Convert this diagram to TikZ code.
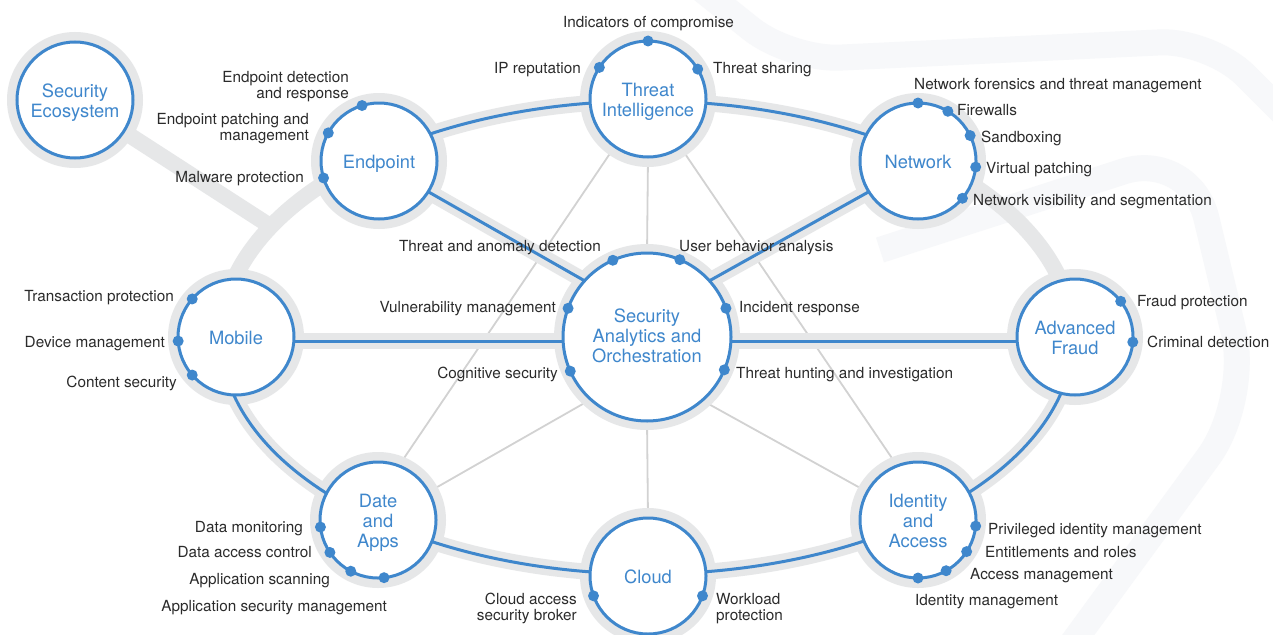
\documentclass[tikz,border=0pt]{standalone}
\usepackage{fontspec}
\setmainfont{TeX Gyre Heros}
\definecolor{hblue}{HTML}{3F87CC}
\definecolor{halo}{HTML}{E6E7E8}
\definecolor{thingray}{HTML}{D2D2D2}
\definecolor{txt}{HTML}{2B2B2B}
\definecolor{wmark}{HTML}{F7F8FA}
\newcommand\hubtop{\rule{0pt}{18.6pt}}
\newcommand\bigtop{\rule{0pt}{14.5pt}}
\newcommand\hubbot{\rule[-4pt]{0pt}{4pt}}
\pgfdeclarelayer{bg}
\pgfdeclarelayer{mid}
\pgfsetlayers{bg,mid,main}
\begin{document}
\begin{tikzpicture}[x=1pt,y=-1pt,
  hub/.style={circle, draw=hblue, line width=3pt, fill=white, minimum size=116pt,
    inner sep=0pt, outer sep=0pt, text=hblue, align=center,
    font=\fontsize{18.3}{20}\selectfont},
  bighub/.style={hub, minimum size=168pt},
  lbl/.style={text=txt, inner sep=0pt, yshift=-2pt, font=\fontsize{15.3}{15.5}\selectfont},
  lblone/.style={lbl, text height=11pt, text depth=3pt},
  dotmark/.style={fill=hblue},
  band/.style={draw=halo, line width=16pt},
  blueline/.style={draw=hblue, line width=3pt},
  thinline/.style={draw=thingray, line width=1.8pt}]
\useasboundingbox (0,0) rectangle (1273,634);

% ---------- hubs ----------
\node[hub] (se) at (75,100) {\hubtop Security\\Ecosystem\hubbot};
\node[hub] (ep) at (379,161) {\hubtop Endpoint\hubbot};
\node[hub] (ti) at (648,99) {\hubtop Threat\\Intelligence\hubbot};
\node[hub] (nw) at (918,161) {\hubtop Network\hubbot};
\node[bighub] (sao) at (647,337) {\bigtop Security\\Analytics and\\Orchestration\hubbot};
\node[hub] (mob) at (236,337) {\hubtop Mobile\hubbot};
\node[hub] (af) at (1075,337) {\hubtop Advanced\\Fraud\hubbot};
\node[hub] (da) at (378,520) {\hubtop Date\\and\\Apps\hubbot};
\node[hub] (cl) at (648,576) {\hubtop Cloud\hubbot};
\node[hub] (ia) at (918,520) {\hubtop Identity\\and\\Access\hubbot};
\coordinate (junc) at (270.9,226.5);

% ---------- background layer ----------
\begin{pgfonlayer}{bg}
\fill[white] (0,0) rectangle (1273,634);
% faint watermark
\draw[wmark, line width=26pt, line join=round, rounded corners=50pt]
  (690,-20) -- (790,60) -- (1210,40) -- (1290,120);
\draw[wmark, line width=26pt, line join=round, rounded corners=70pt]
  (880,250) -- (1190,150) -- (1250,400) -- (1060,660);
% thin gray links
\draw[thinline] (sao.90) -- (ti.270);
\draw[thinline] (sao.270) -- (cl.90);
\draw[thinline] (ti.235.5) -- (da.69);
\draw[thinline] (ti.304.5) -- (ia.111);
\draw[thinline] (sao.228.6) -- (da.29);
\draw[thinline] (sao.311.4) -- (ia.151);
% halos
\foreach \n in {se,ep,ti,nw,mob,af,da,cl,ia}
  \fill[halo] (\n.center) circle (68pt);
\fill[halo] (sao.center) circle (93pt);
% gray bands
\draw[band] plot[domain=0:360, samples=181, variable=\t, smooth]
  ({647+426*cos(\t)},{337.5-236.5*sin(\t)});
\draw[band] (se.center) -- (junc);
\draw[band] (ep.-32) -- (sao.138);
\draw[band] (nw.212) -- (sao.42);
\draw[band] (mob.-4) -- (af.184);
\end{pgfonlayer}

% ---------- blue links ----------
\begin{pgfonlayer}{mid}
\draw[blueline] plot[domain=49.5:130, samples=60, variable=\t, smooth]
  ({647+426*cos(\t)},{337.5-236.5*sin(\t)});
\draw[blueline] plot[domain=180:360, samples=120, variable=\t, smooth]
  ({647+426*cos(\t)},{337.5-236.5*sin(\t)});
\draw[blueline] (ep.-32) -- (sao.138);
\draw[blueline] (nw.212) -- (sao.42);
\draw[blueline] (mob.-4) -- (af.184);
\end{pgfonlayer}

% ---------- dots ----------
\foreach \n/\a in {ep/107, ep/151, ep/197,
                   ti/90, ti/147, ti/31.5,
                   nw/90, nw/59, nw/26, nw/-6, nw/-40,
                   sao/114, sao/67, sao/160, sao/20, sao/204, sao/-23.5,
                   mob/139, mob/184, mob/221,
                   da/187, da/214, da/242.5, da/276,
                   cl/200, cl/-20,
                   ia/-6, ia/-33, ia/-61, ia/-90,
                   af/38, af/-5}
  \fill[dotmark] (\n.\a) circle (5.5pt);

% ---------- labels ----------
% Endpoint
\node[lbl, align=right, anchor=east] (l-edr) at (349,84.5) {Endpoint detection\\and response};
\node[lbl, align=right, anchor=east] (l-epm) at (309,126.5) {Endpoint patching and\\management};
\node[lblone, anchor=east] (l-mp) at (304,176) {Malware protection};
% Threat Intelligence
\node[lblone, anchor=center] (l-ioc) at (648.5,22) {Indicators of compromise};
\node[lblone, anchor=east] (l-ip) at (581,68) {IP reputation};
\node[lblone, anchor=west] (l-ts) at (713,68) {Threat sharing};
% Network
\node[lblone, anchor=west] (l-nf) at (914,83) {Network forensics and threat management};
\node[lblone, anchor=west] (l-fw) at (957,109) {Firewalls};
\node[lblone, anchor=west] (l-sb) at (981,136) {Sandboxing};
\node[lblone, anchor=west] (l-vp) at (986,167) {Virtual patching};
\node[lblone, anchor=west] (l-nv) at (973,199) {Network visibility and segmentation};
% Security Analytics and Orchestration
\node[lblone, anchor=east] (l-tad) at (601,245) {Threat and anomaly detection};
\node[lblone, anchor=west] (l-uba) at (679,245) {User behavior analysis};
\node[lblone, anchor=east] (l-vm) at (556,306) {Vulnerability management};
\node[lblone, anchor=west] (l-ir) at (739,306) {Incident response};
\node[lblone, anchor=east] (l-cs) at (558,372) {Cognitive security};
\node[lblone, anchor=west] (l-th) at (736,372) {Threat hunting and investigation};
% Mobile
\node[lblone, anchor=east] (l-tp) at (174,295) {Transaction protection};
\node[lblone, anchor=east] (l-dm) at (165,341) {Device management};
\node[lblone, anchor=east] (l-cons) at (177,381) {Content security};
% Date and Apps
\node[lblone, anchor=east] (l-dmon) at (303,526) {Data monitoring};
\node[lblone, anchor=east] (l-dac) at (312,551) {Data access control};
\node[lblone, anchor=east] (l-as) at (330,578) {Application scanning};
\node[lblone, anchor=east] (l-asm) at (387,605) {Application security management};
% Cloud
\node[lbl, align=right, anchor=east] (l-casb) at (577,606.5) {Cloud access\\security broker};
\node[lbl, align=left, anchor=west] (l-wp) at (716,606.5) {Workload\\protection};
% Identity and Access
\node[lblone, anchor=west] (l-pim) at (988,528) {Privileged identity management};
\node[lblone, anchor=west] (l-er) at (985,551) {Entitlements and roles};
\node[lblone, anchor=west] (l-am) at (970,573) {Access management};
\node[lblone, anchor=west] (l-im) at (915,599) {Identity management};
% Advanced Fraud
\node[lblone, anchor=west] (l-fp) at (1137,300) {Fraud protection};
\node[lblone, anchor=west] (l-cd) at (1147,341) {Criminal detection};
\end{tikzpicture}
\end{document}
